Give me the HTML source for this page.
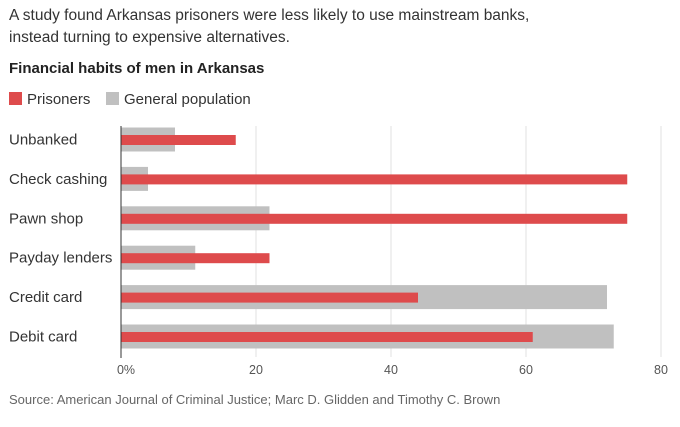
<!DOCTYPE html>
<html><head><meta charset="utf-8"><style>
body{margin:0;width:680px;height:427px;background:#fff;font-family:"Liberation Sans",sans-serif;color:#333;overflow:hidden}
.t{position:absolute;white-space:nowrap}
</style></head><body>
<div class="t" style="left:9px;top:5px;font-size:15.5px;line-height:22px;color:#333">A study found Arkansas prisoners were less likely to use mainstream banks,<br>instead turning to expensive alternatives.</div>
<div class="t" style="left:9px;top:60px;font-size:15px;font-weight:bold;color:#222">Financial habits of men in Arkansas</div>
<div class="t" style="left:9px;top:91px;font-size:15px"><span style="display:inline-block;width:13px;height:13px;background:#de4b4c;vertical-align:-1px;margin-right:5px"></span>Prisoners</div>
<div class="t" style="left:106px;top:91px;font-size:15px"><span style="display:inline-block;width:13px;height:13px;background:#c0c0c0;vertical-align:-1px;margin-right:5px"></span>General population</div>
<svg id="c" width="680" height="427" style="position:absolute;left:0;top:0"></svg>
<div class="t" style="left:9px;top:392px;font-size:13px;color:#666">Source: American Journal of Criminal Justice; Marc D. Glidden and Timothy C. Brown</div>
<script>
const categories=["Unbanked","Check cashing","Pawn shop","Payday lenders","Credit card","Debit card"];
const prisoners=[17,75,75,22,44,61];
const general=[8,4,22,11,72,73];
const ticks=[0,20,40,60,80];
const tickLabels=["0%","20","40","60","80"];
const NS="http://www.w3.org/2000/svg",svg=document.getElementById('c');
const x=v=>121+v*6.75, y=i=>139.5+i*39.4;
function mk(t,a){const e=document.createElementNS(NS,t);for(const k in a)e.setAttribute(k,a[k]);svg.appendChild(e);return e;}
ticks.forEach((v,i)=>{
 if(v>0){const g=mk('line',{x1:x(v),x2:x(v),y1:126,y2:357,stroke:'#e2e2e2','stroke-width':1});
 
 }
 const t=mk('text',{x:x(v)+(i==0?5:0),y:374,'text-anchor':'middle','font-size':12.5,fill:'#555','font-family':'Liberation Sans, sans-serif'});
 t.textContent=tickLabels[i];
 
 
});
categories.forEach((c,i)=>{
 const l=mk('text',{x:9,y:y(i)+5,'font-size':15,fill:'#333','font-family':'Liberation Sans, sans-serif'});
 l.textContent=c;
 
 
 const g=mk('rect',{x:x(0),y:y(i)-12,width:x(general[i])-x(0),height:24,fill:'#c0c0c0'});
 
 
 const r=mk('rect',{x:x(0),y:y(i)-4.5,width:x(prisoners[i])-x(0),height:10,fill:'#de4b4c'});
 
 
});
const ax=mk('line',{x1:x(0),x2:x(0),y1:126,y2:358,stroke:'#333','stroke-width':1});


</script>
</body></html>
